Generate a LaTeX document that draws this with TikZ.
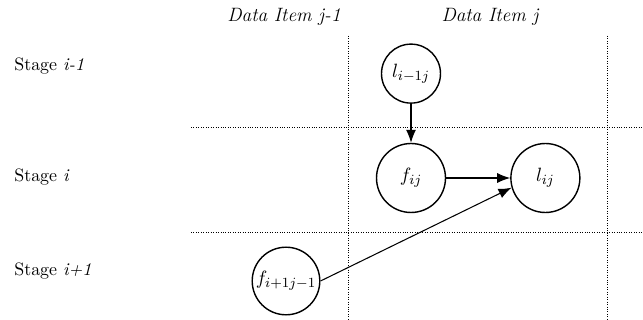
\documentclass[tikz,border=0pt]{standalone}
\usetikzlibrary{arrows.meta, positioning}
\tikzset{
  cnode/.style={draw, thick, circle, inner sep=1pt, minimum size=1.38cm,
    font=\fontsize{11}{13}\selectfont},
  gline/.style={densely dotted, thin},
  flow/.style={-{Latex[length=2.6mm, width=2mm]}, semithick},
  stagelbl/.style={anchor=west, inner sep=0pt, font=\fontsize{10.2}{12}\selectfont},
  itemlbl/.style={font=\fontsize{11}{13}\selectfont\itshape},
}

\begin{document}
\begin{tikzpicture}[x=0.02cm, y=-0.02cm]
    \useasboundingbox (0,0) rectangle (643,320);
    % column and row labels
    \node[itemlbl] (itemA) at (284,17) {Data Item j-1};
    \node[itemlbl] (itemB) at (490,17) {Data Item j};
    \node[stagelbl] (stA) at (14,66) {Stage \textit{i-1}};
    \node[stagelbl] (stB) at (14,177) {Stage \textit{i}};
    \node[stagelbl] (stC) at (14,271) {Stage \textit{i+1}};
    % grid
    \draw[gline] (348,36) -- (348,320);
    \draw[gline] (607,36) -- (607,320);
    \draw[gline] (191,127) -- (643,127);
    \draw[gline] (191,232) -- (643,232);
    % tasks
    \node[cnode] (fij) at (411,178) {$f_{ij}$};
    \node[cnode, minimum size=1.18cm, above=0.78cm of fij] (lprev) {$l_{i-1j}$};
    \node[cnode, right=1.28cm of fij] (lij) {$l_{ij}$};
    \node[cnode, minimum size=1.32cm] (fprev) at (286,281) {$f_{i+1j-1}$};
    \draw[flow] (lprev) -- (fij);
    \draw[flow] (fij) -- (lij);
    \draw[flow] (fprev.east) -- (lij.196);
\end{tikzpicture}
\end{document}
